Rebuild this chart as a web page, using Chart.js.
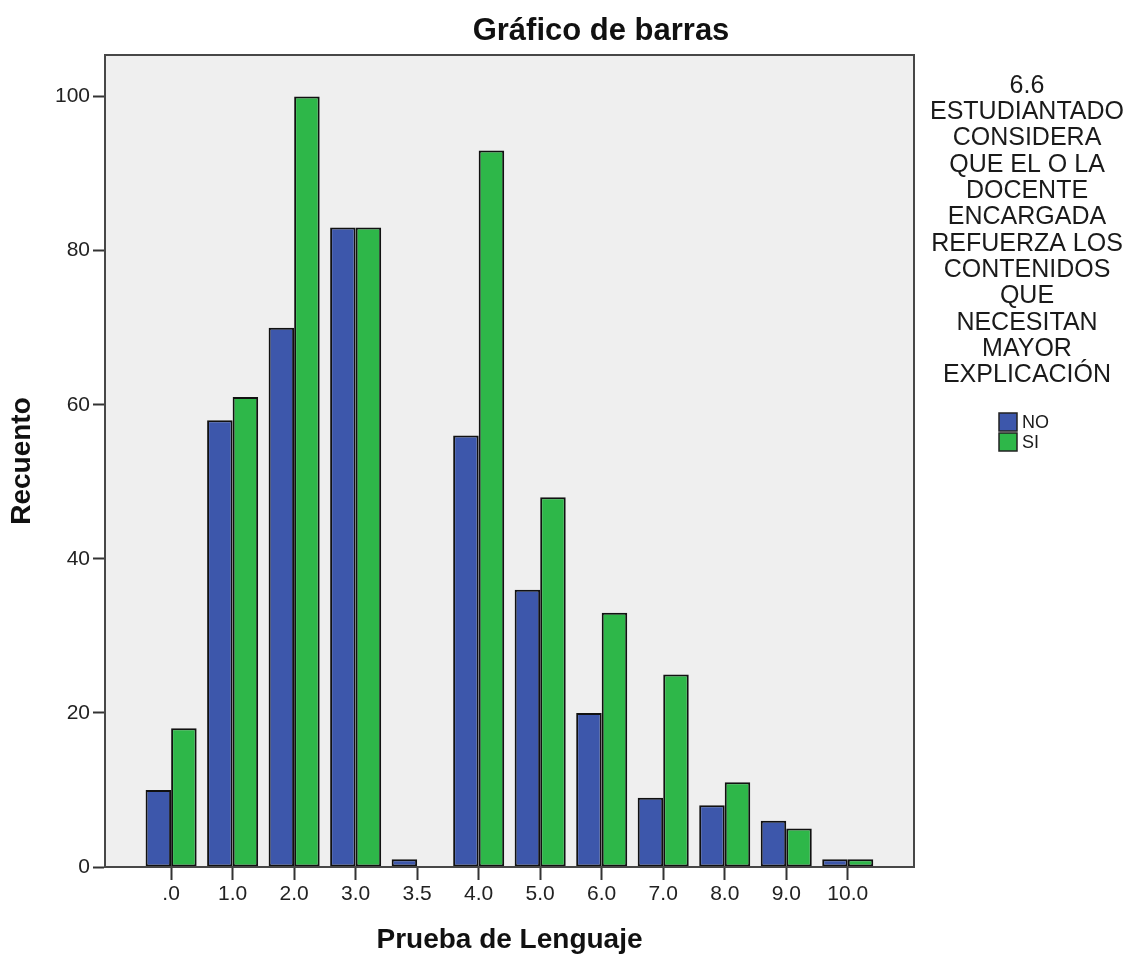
<!DOCTYPE html>
<html>
<head>
<meta charset="utf-8">
<script src="https://cdn.jsdelivr.net/npm/chart.js@4.4.1/dist/chart.umd.min.js"></script>
<style>
  html, body { margin: 0; padding: 0; background: #ffffff; }
  canvas { display: block; }
</style>
</head>
<body>
<canvas id="c" width="1127" height="954"></canvas>
<script>
const categories = ['.0', '1.0', '2.0', '3.0', '3.5', '4.0', '5.0', '6.0', '7.0', '8.0', '9.0', '10.0'];
const noCounts = [10, 58, 70, 83, 1, 56, 36, 20, 9, 8, 6, 1];
const siCounts = [18, 61, 100, 83, 0, 93, 48, 33, 25, 11, 5, 1];
const yTickValues = [0, 20, 40, 60, 80, 100];
const seriesNames = ['NO', 'SI'];
const chartTitle = 'Gráfico de barras';
const xTitle = 'Prueba de Lenguaje';
const yTitle = 'Recuento';
const legendTitleLines = ['6.6', 'ESTUDIANTADO', 'CONSIDERA', 'QUE EL O LA', 'DOCENTE', 'ENCARGADA',
  'REFUERZA LOS', 'CONTENIDOS', 'QUE', 'NECESITAN', 'MAYOR', 'EXPLICACIÓN'];

const FONT = '"Liberation Sans", Arial, sans-serif';
const colors = ['#3D57AB', '#2EB749'];

const decorPlugin = {
  id: 'decor',
  beforeDraw(chart) {
    const {ctx, chartArea: a} = chart;
    ctx.save();
    ctx.fillStyle = '#EFEFEF';
    ctx.fillRect(a.left, a.top, a.right - a.left, a.bottom - a.top);
    ctx.restore();
  },
  afterDraw(chart) {
    const {ctx, chartArea: a} = chart;
    ctx.save();
    ctx.strokeStyle = '#474747';
    ctx.lineWidth = 2;
    ctx.strokeRect(a.left, a.top, a.right - a.left, a.bottom - a.top);
    // Title
    ctx.fillStyle = '#111';
    ctx.font = 'bold 31px ' + FONT;
    ctx.textAlign = 'center';
    ctx.textBaseline = 'middle';
    ctx.fillText(chartTitle, 601, 31);
    // Legend title
    ctx.font = '25px ' + FONT;
    ctx.fillStyle = '#1a1a1a';
    legendTitleLines.forEach((line, i) => {
      ctx.fillText(line, 1027, 86 + i * 26.3);
    });
    // Legend items
    ctx.textAlign = 'left';
    ctx.font = '18px ' + FONT;
    chart.data.datasets.forEach((ds, i) => {
      const y = 413 + i * 20;
      ctx.fillStyle = ds.backgroundColor;
      ctx.fillRect(999, y, 18, 18);
      ctx.strokeStyle = '#222';
      ctx.lineWidth = 1.5;
      ctx.strokeRect(999, y, 18, 18);
      ctx.fillStyle = '#1a1a1a';
      ctx.fillText(ds.label, 1022, y + 10);
    });
    ctx.restore();
  }
};

new Chart(document.getElementById('c'), {
  type: 'bar',
  data: {
    datasets: [
      { label: seriesNames[0], data: categories.map((c, i) => ({x: i, y: noCounts[i]})),
        backgroundColor: colors[0], borderColor: '#111111', borderWidth: 2, borderSkipped: false },
      { label: seriesNames[1], data: categories.map((c, i) => ({x: i, y: siCounts[i]})),
        backgroundColor: colors[1], borderColor: '#111111', borderWidth: 2, borderSkipped: false }
    ]
  },
  options: {
    responsive: false,
    devicePixelRatio: 1,
    animation: false,
    layout: { padding: { top: 55, right: 213, left: 0, bottom: 0 } },
    datasets: { bar: { categoryPercentage: 0.83, barPercentage: 1.0 } },
    plugins: {
      legend: { display: false },
      title: { display: false },
      tooltip: { enabled: false }
    },
    scales: {
      x: {
        type: 'linear',
        offset: false,
        min: -1.075,
        max: 12.077,
        afterBuildTicks(scale) { scale.ticks = categories.map((c, i) => ({value: i})); },
        afterFit(scale) { scale.height = 87; },
        ticks: {
          autoSkip: false, maxRotation: 0, padding: 2,
          color: '#222', font: { family: FONT, size: 21 },
          callback: (v) => categories[Math.round(v)]
        },
        grid: { offset: false, drawOnChartArea: false, drawTicks: true, tickLength: 13, tickWidth: 2, tickColor: '#333' },
        border: { display: true, color: '#474747', width: 2 },
        title: { display: true, text: xTitle, color: '#111',
          font: { family: FONT, size: 28, weight: 'bold', lineHeight: 1 }, padding: 0 }
      },
      y: {
        min: 0,
        max: 105.4,
        afterBuildTicks(scale) { scale.ticks = yTickValues.map(v => ({value: v})); },
        afterFit(scale) { scale.width = 105; },
        ticks: { padding: 3, color: '#222', font: { family: FONT, size: 21 } },
        grid: { drawOnChartArea: false, drawTicks: true, tickLength: 12, tickWidth: 2, tickColor: '#333' },
        border: { display: true, color: '#474747', width: 2 },
        title: { display: true, text: yTitle, color: '#111',
          font: { family: FONT, size: 28, weight: 'bold', lineHeight: 1 }, padding: { top: 8, bottom: 0 } }
      }
    }
  },
  plugins: [decorPlugin]
});
</script>
</body>
</html>
